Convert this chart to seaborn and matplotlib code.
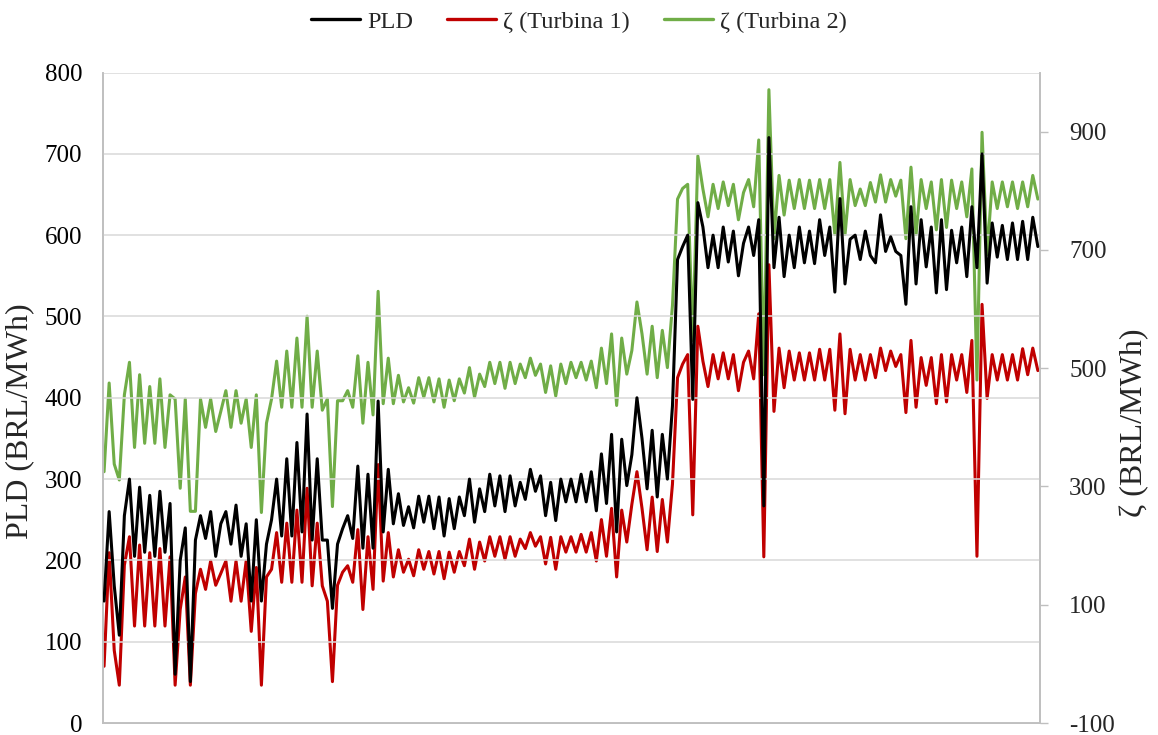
import numpy as np
import pandas as pd
import matplotlib
matplotlib.use("Agg")
import matplotlib.pyplot as plt
import seaborn as sns
from matplotlib.lines import Line2D

# PLD series (left axis, BRL/MWh)
pld = [150, 260, 169, 108, 255, 300, 205, 290, 210, 280, 205, 285, 210, 270, 60, 200, 240, 51, 225, 255,
       227, 260, 205, 245, 260, 220, 268, 205, 245, 150, 250, 150, 220, 250, 300, 230, 325, 230, 345, 235,
       380, 225, 325, 225, 225, 141, 220, 239, 255, 227, 316, 215, 306, 215, 396, 235, 312, 245, 282, 243,
       266, 240, 279, 247, 279, 239, 278, 230, 276, 239, 278, 255, 300, 247, 288, 260, 306, 267, 304, 260,
       304, 267, 296, 275, 312, 285, 304, 255, 296, 249, 300, 272, 300, 272, 306, 272, 309, 261, 331, 270,
       355, 235, 349, 292, 330, 400, 350, 288, 360, 278, 355, 300, 390, 570, 586, 600, 398, 640, 610, 560,
       600, 560, 610, 567, 605, 550, 590, 610, 575, 619, 267, 720, 560, 622, 549, 600, 560, 610, 566, 605,
       565, 619, 575, 610, 530, 645, 540, 595, 600, 570, 605, 575, 566, 625, 580, 598, 580, 575, 515, 635,
       540, 619, 561, 610, 529, 619, 533, 606, 566, 610, 549, 635, 560, 700, 541, 615, 573, 612, 570, 615,
       570, 617, 570, 622, 586]

# zeta, turbine 1 (right axis, BRL/MWh)
zeta_t1 = [-4, 188, 23, -36, 167, 215, 64, 201, 64, 188, 64, 195, 64, 181, -36, 92, 147, -36, 119, 160,
           126, 174, 133, 153, 174, 106, 174, 106, 174, 55, 163, -36, 147, 160, 222, 138, 238, 138, 260, 138,
           297, 132, 238, 132, 106, -30, 133, 155, 166, 138, 227, 92, 215, 126, 337, 140, 222, 147, 193, 155,
           177, 149, 193, 160, 190, 152, 190, 144, 189, 155, 190, 166, 211, 160, 206, 174, 215, 182, 215, 177,
           215, 182, 211, 195, 222, 199, 215, 169, 214, 160, 215, 189, 215, 189, 219, 189, 222, 174, 244, 182,
           263, 147, 260, 206, 270, 325, 263, 193, 282, 190, 278, 206, 304, 484, 507, 523, 252, 571, 512, 469,
           523, 482, 526, 482, 523, 462, 510, 529, 482, 592, 181, 675, 427, 534, 467, 529, 480, 526, 480, 526,
           480, 532, 480, 532, 429, 558, 423, 532, 480, 523, 480, 523, 484, 534, 496, 529, 503, 523, 425, 547,
           434, 518, 471, 518, 440, 523, 443, 523, 480, 523, 459, 547, 182, 608, 449, 523, 480, 523, 480, 523,
           480, 533, 489, 534, 496]

# zeta, turbine 2 (right axis, BRL/MWh)
zeta_t2 = [325, 475, 338, 311, 455, 510, 366, 489, 373, 469, 373, 482, 366, 455, 448, 297, 448, 258, 258, 448,
           400, 448, 393, 427, 462, 400, 462, 407, 448, 366, 455, 256, 407, 448, 512, 434, 529, 434, 551, 434,
           588, 434, 529, 429, 448, 266, 445, 445, 462, 434, 521, 407, 510, 421, 630, 440, 517, 440, 488, 443,
           467, 441, 484, 451, 484, 443, 482, 434, 480, 445, 482, 458, 501, 451, 490, 469, 510, 474, 510, 466,
           510, 474, 507, 484, 517, 488, 507, 459, 504, 453, 507, 474, 510, 484, 510, 480, 512, 467, 534, 474,
           558, 437, 551, 490, 530, 612, 558, 490, 571, 484, 564, 501, 606, 786, 804, 811, 547, 859, 803, 756,
           811, 770, 815, 775, 811, 751, 797, 819, 773, 886, 489, 971, 719, 826, 759, 818, 770, 819, 770, 818,
           770, 819, 770, 819, 726, 848, 726, 819, 775, 803, 775, 814, 781, 827, 781, 819, 791, 818, 719, 840,
           726, 819, 770, 815, 734, 819, 738, 818, 770, 815, 756, 837, 480, 899, 692, 815, 770, 815, 773, 815,
           770, 815, 773, 826, 786]

day = np.arange(len(pld))

df = pd.DataFrame({"day": day, "PLD": pld, "T1": zeta_t1, "T2": zeta_t2})

sns.set_theme(style="white")
plt.rcParams["font.family"] = ["Liberation Serif", "DejaVu Serif"]
plt.rcParams["axes.unicode_minus"] = False

fig = plt.figure(figsize=(11.58, 7.35), dpi=100)
ax = fig.add_axes([0.089, 0.0163, 0.809, 0.885])
ax2 = ax.twinx()

black = "#000000"
red = "#C00000"
green = "#70AD47"
grey = "#BFBFBF"

sns.lineplot(data=df, x="day", y="PLD", ax=ax, color=black, lw=2.2, zorder=5)
sns.lineplot(data=df, x="day", y="T1", ax=ax2, color=red, lw=2.2)
sns.lineplot(data=df, x="day", y="T2", ax=ax2, color=green, lw=2.2)

# PLD drawn above the zeta lines
ax.set_zorder(ax2.get_zorder() + 1)
ax.patch.set_visible(False)

ax.set_xlim(-0.2, len(pld) - 0.6)
ax.set_ylim(0, 800)
ax.set_yticks(np.arange(0, 801, 100))
ax2.set_ylim(-100, 1000)
ax2.set_yticks(np.arange(-100, 901, 200))

ax.yaxis.grid(True, color="#D9D9D9", lw=1.1)
ax.set_axisbelow(True)
ax.set_xticks([])
ax.set_xlabel("")
ax2.set_xlabel("")

ax.set_ylabel("PLD (BRL/MWh)", fontsize=23)
ax2.set_ylabel("ζ (BRL/MWh)", fontsize=23)
ax.yaxis.set_label_coords(-0.0735, 0.464)
ax2.yaxis.set_label_coords(1.085, 0.462)

ax.tick_params(axis="y", labelsize=18, length=0, pad=15, colors="#000000")
ax2.tick_params(axis="y", labelsize=18, length=6, width=1, pad=15, color=grey)

for a in (ax, ax2):
    a.spines["top"].set_visible(False)
    for s in ("left", "right", "bottom"):
        a.spines[s].set_color(grey)
        a.spines[s].set_linewidth(1.2)

handles = [Line2D([], [], color=black, lw=2.4),
           Line2D([], [], color=red, lw=2.4),
           Line2D([], [], color=green, lw=2.4)]
labels = ["PLD", "ζ (Turbina 1)", "ζ (Turbina 2)"]
fig.legend(handles, labels, loc="upper center", bbox_to_anchor=(0.5, 1.015), ncol=3,
           frameon=False, fontsize=17.5, handlelength=2.0, handletextpad=0.3, columnspacing=1.4)

fig.savefig("out.png", dpi=100)
